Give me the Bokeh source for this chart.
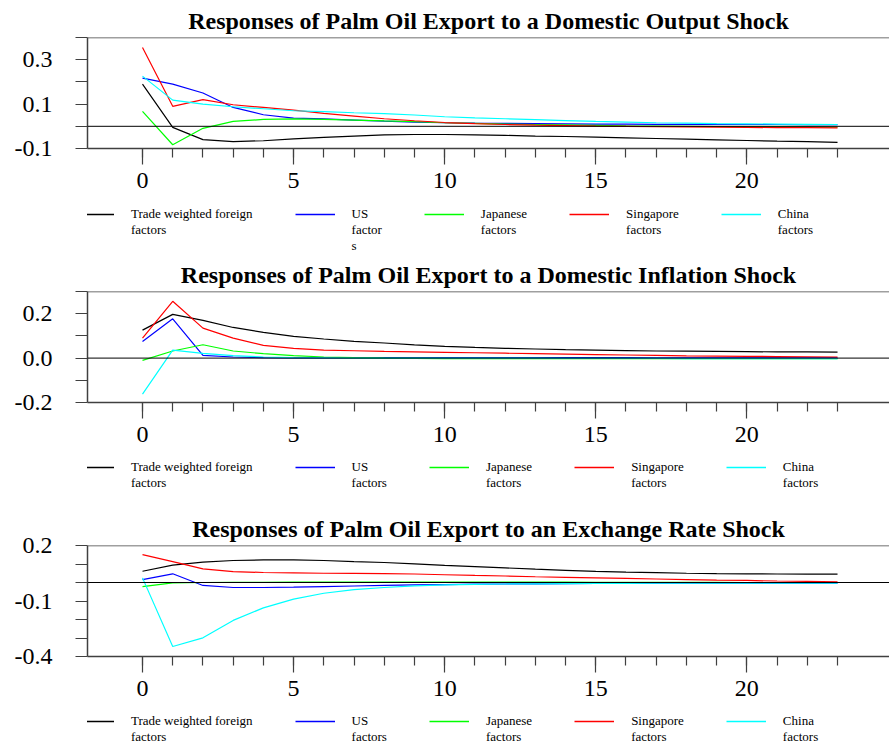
from bokeh.plotting import figure
from bokeh.models import Range1d, FixedTicker, PrintfTickFormatter, Span, Legend, LegendItem
from bokeh.layouts import column
from bokeh.embed import file_html
from bokeh.resources import INLINE

periods = list(range(24))

colors = ["black", "#0000FF", "#00FF00", "#FF0000", "#00FFFF"]
names = ["Trade weighted foreign\nfactors", "US\nfactors", "Japanese\nfactors",
         "Singapore\nfactors", "China\nfactors"]
names_first = ["Trade weighted foreign\nfactors", "US\nfactor\ns", "Japanese\nfactors",
               "Singapore\nfactors", "China\nfactors"]

titles = ["Responses of Palm Oil Export to a Domestic Output Shock",
          "Responses of Palm Oil Export to a Domestic Inflation Shock",
          "Responses of Palm Oil Export to an Exchange Rate Shock"]

# Panel 1: domestic output shock
trade_out = [0.19, -0.005, -0.06, -0.069, -0.065, -0.057, -0.050, -0.044, -0.039, -0.037, -0.037, -0.039,
             -0.041, -0.044, -0.046, -0.049, -0.052, -0.055, -0.058, -0.061, -0.064, -0.067, -0.069, -0.072]
us_out = [0.217, 0.19, 0.15, 0.085, 0.052, 0.037, 0.033, 0.028, 0.023, 0.019, 0.016, 0.014,
          0.013, 0.012, 0.011, 0.010, 0.010, 0.009, 0.009, 0.008, 0.008, 0.008, 0.007, 0.007]
jp_out = [0.067, -0.083, -0.009, 0.022, 0.031, 0.033, 0.031, 0.028, 0.024, 0.021, 0.016, 0.013,
          0.010, 0.008, 0.006, 0.004, 0.002, 0.001, 0.0, -0.001, -0.002, -0.003, -0.003, -0.004]
sg_out = [0.355, 0.09, 0.12, 0.097, 0.085, 0.073, 0.058, 0.046, 0.034, 0.025, 0.017, 0.012,
          0.008, 0.005, 0.003, 0.001, 0.0, -0.002, -0.003, -0.004, -0.005, -0.006, -0.006, -0.007]
cn_out = [0.226, 0.118, 0.10, 0.088, 0.079, 0.07, 0.066, 0.061, 0.057, 0.051, 0.043, 0.038,
          0.034, 0.030, 0.026, 0.022, 0.019, 0.016, 0.014, 0.012, 0.011, 0.010, 0.009, 0.008]

# Panel 2: domestic inflation shock
trade_inf = [0.126, 0.197, 0.17, 0.138, 0.116, 0.098, 0.086, 0.075, 0.068, 0.060, 0.053, 0.048,
             0.044, 0.041, 0.038, 0.036, 0.034, 0.032, 0.031, 0.030, 0.029, 0.028, 0.028, 0.027]
us_inf = [0.075, 0.177, 0.012, 0.005, 0.002, 0.001, 0.001, 0.001, 0.002, 0.002, 0.002, 0.002,
          0.002, 0.002, 0.002, 0.002, 0.002, 0.001, 0.001, 0.001, 0.001, 0.001, 0.001, 0.001]
jp_inf = [-0.01, 0.032, 0.06, 0.032, 0.02, 0.011, 0.005, 0.002, 0.0, -0.001, -0.002, -0.003,
          -0.003, -0.003, -0.003, -0.003, -0.003, -0.003, -0.003, -0.003, -0.003, -0.003, -0.003, -0.003]
sg_inf = [0.09, 0.256, 0.135, 0.09, 0.057, 0.044, 0.036, 0.033, 0.030, 0.028, 0.026, 0.024,
          0.022, 0.020, 0.018, 0.016, 0.014, 0.012, 0.010, 0.009, 0.008, 0.007, 0.006, 0.005]
cn_inf = [-0.162, 0.036, 0.021, 0.011, 0.005, 0.002, 0.001, 0.0, 0.0, 0.0, 0.0, 0.0,
          0.0, 0.0, -0.001, -0.001, -0.001, -0.001, -0.002, -0.002, -0.002, -0.002, -0.002, -0.002]

# Panel 3: exchange rate shock
trade_ex = [0.061, 0.094, 0.11, 0.119, 0.122, 0.122, 0.119, 0.113, 0.108, 0.101, 0.093, 0.086,
            0.079, 0.072, 0.066, 0.060, 0.056, 0.053, 0.050, 0.048, 0.047, 0.046, 0.045, 0.045]
us_ex = [0.016, 0.047, -0.016, -0.027, -0.027, -0.025, -0.022, -0.019, -0.016, -0.013, -0.011, -0.009,
         -0.008, -0.007, -0.006, -0.005, -0.005, -0.004, -0.004, -0.003, -0.003, -0.003, -0.003, -0.003]
jp_ex = [-0.022, -0.002, 0.0, 0.001, 0.001, 0.002, 0.002, 0.002, 0.002, 0.002, 0.002, 0.002,
         0.002, 0.002, 0.002, 0.001, 0.001, 0.001, 0.001, 0.001, 0.0, 0.0, 0.0, 0.0]
sg_ex = [0.151, 0.113, 0.074, 0.059, 0.054, 0.052, 0.050, 0.049, 0.048, 0.046, 0.042, 0.038,
         0.035, 0.031, 0.028, 0.025, 0.022, 0.019, 0.016, 0.013, 0.011, 0.008, 0.006, 0.004]
cn_ex = [0.025, -0.346, -0.299, -0.205, -0.137, -0.09, -0.058, -0.038, -0.027, -0.018, -0.013, -0.010,
         -0.008, -0.007, -0.006, -0.005, -0.005, -0.004, -0.004, -0.004, -0.004, -0.004, -0.004, -0.004]

x_major = [0, 5, 10, 15, 20]
y1_major, y1_minor = [-0.1, 0.1, 0.3], [0.0, 0.2, 0.4]
y2_major, y2_minor = [-0.2, 0.0, 0.2], [-0.1, 0.1, 0.3]
y3_major, y3_minor = [-0.4, -0.1, 0.2], [-0.3, -0.2, 0.0, 0.1]

FONT = "Liberation Serif"
AX = "#404040"
NAN = float("nan")


def panel(title, series, ylo, yhi, major, minor):
    p = figure(width=889, height=200, x_range=Range1d(-1.82, 24.72), y_range=Range1d(ylo, yhi),
               output_backend="svg", toolbar_location=None,
               min_border_left=87, min_border_right=0, min_border_top=37, min_border_bottom=52)
    p.title.text = title
    p.title.text_font = FONT
    p.title.text_font_size = "24px"
    p.title.text_font_style = "bold"
    p.title.text_color = "black"
    p.title.align = "center"
    p.title.standoff = 8
    p.outline_line_color = None
    p.xgrid.visible = False
    p.ygrid.visible = False

    p.add_layout(Span(location=0, dimension="width", line_color="black", line_width=1))
    p.add_layout(Span(location=yhi, dimension="width", line_color=AX, line_width=1.5))

    for ys, c in zip(series, colors):
        p.line(periods, ys, line_color=c, line_width=1.2)

    xa = p.xaxis[0]
    xa.ticker = FixedTicker(ticks=x_major, minor_ticks=periods)
    xa.axis_line_color = AX
    xa.axis_line_width = 1.5
    xa.major_tick_line_color = AX
    xa.minor_tick_line_color = AX
    xa.major_tick_line_width = 1.2
    xa.minor_tick_line_width = 1.2
    xa.major_tick_in = 0
    xa.major_tick_out = 16
    xa.minor_tick_in = 0
    xa.minor_tick_out = 9
    xa.major_label_standoff = 8
    xa.major_label_text_font = FONT
    xa.major_label_text_font_size = "24px"
    xa.major_label_text_color = "black"

    ya = p.yaxis[0]
    ya.ticker = FixedTicker(ticks=major, minor_ticks=minor)
    ya.formatter = PrintfTickFormatter(format="%.1f")
    ya.axis_line_color = AX
    ya.axis_line_width = 1.5
    ya.major_tick_line_color = AX
    ya.minor_tick_line_color = AX
    ya.major_tick_line_width = 1.2
    ya.minor_tick_line_width = 1.2
    ya.major_tick_in = 0
    ya.major_tick_out = 12
    ya.minor_tick_in = 0
    ya.minor_tick_out = 12
    ya.major_label_standoff = 23
    ya.major_label_text_font = FONT
    ya.major_label_text_font_size = "24px"
    ya.major_label_text_color = "black"
    return p


def legend_strip(labels, height, y_loc):
    q = figure(width=889, height=height, x_range=Range1d(0, 1), y_range=Range1d(0, 1),
               output_backend="svg", toolbar_location=None,
               x_axis_location=None, y_axis_location=None,
               min_border_left=0, min_border_right=0, min_border_top=0, min_border_bottom=0)
    q.outline_line_color = None
    q.xgrid.visible = False
    q.ygrid.visible = False
    items = []
    for lab, c in zip(labels, colors):
        # renderer with no visible data: it only supplies the legend sample line
        r = q.line(x=[NAN, NAN], y=[NAN, NAN], line_color=c, line_width=1.5)
        # blank leading lines keep the sample line level with the label's first line
        items.append(LegendItem(label="\n" * lab.count("\n") + lab, renderers=[r]))
    leg = Legend(items=items, location=(-13, y_loc), orientation="horizontal",
                 label_text_font=FONT, label_text_font_size="13px", label_text_color="black",
                 glyph_width=40, label_standoff=17, spacing=42, padding=0, margin=0,
                 border_line_color=None, background_fill_alpha=0)
    q.add_layout(leg)
    return q


p1 = panel(titles[0], [trade_out, us_out, jp_out, sg_out, cn_out], -0.1, 0.4, y1_major, y1_minor)
l1 = legend_strip(names_first, 54, 0)
p2 = panel(titles[1], [trade_inf, us_inf, jp_inf, sg_inf, cn_inf], -0.2, 0.3, y2_major, y2_minor)
l2 = legend_strip(names, 54, 17)
p3 = panel(titles[2], [trade_ex, us_ex, jp_ex, sg_ex, cn_ex], -0.4, 0.2, y3_major, y3_minor)
l3 = legend_strip(names, 43, 6)

layout = column(p1, l1, p2, l2, p3, l3, spacing=0)
open("out.html", "w").write(file_html(layout, INLINE))
